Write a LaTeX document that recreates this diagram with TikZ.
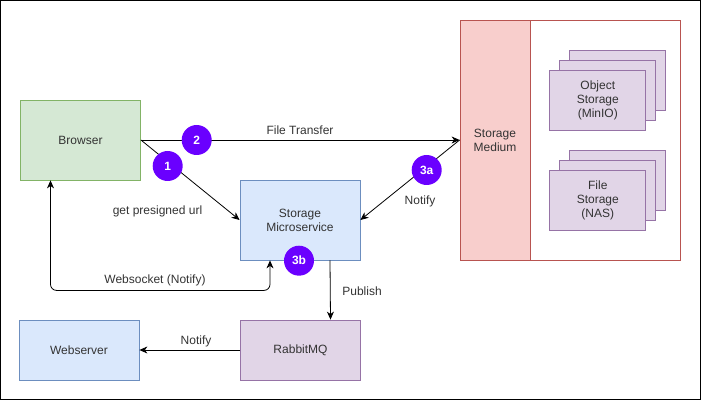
\documentclass[tikz,border=0pt]{standalone}
\usepackage{fontspec}
\setmainfont{Liberation Sans}
\usetikzlibrary{arrows.meta}
\definecolor{gfill}{HTML}{D5E8D4}\definecolor{gdraw}{HTML}{82B366}
\definecolor{bfill}{HTML}{DAE8FC}\definecolor{bdraw}{HTML}{6C8EBF}
\definecolor{pfill}{HTML}{E1D5E7}\definecolor{pdraw}{HTML}{9673A6}
\definecolor{rfill}{HTML}{F8CECC}\definecolor{rdraw}{HTML}{B85450}
\definecolor{badge}{HTML}{6A00FF}
\definecolor{txt}{HTML}{333333}
\begin{document}
\begin{tikzpicture}[x=1pt,y=-1pt,
  font=\fontsize{12}{14}\selectfont, text=txt,
  box/.style={draw, minimum width=120pt, minimum height=80pt, inner sep=0pt, align=center, line width=0.8pt},
  green box/.style={box, fill=gfill, draw=gdraw},
  blue box/.style={box, fill=bfill, draw=bdraw},
  purple box/.style={box, fill=pfill, draw=pdraw},
  minibox/.style={draw=pdraw, fill=pfill, minimum width=96pt, minimum height=60pt, inner sep=0pt, align=center, line width=0.8pt},
  num/.style={circle, fill=badge, minimum size=30pt, inner sep=0pt, text=white, font=\fontsize{12}{14}\selectfont\bfseries},
  arr/.style={-{Stealth[length=8pt,width=7pt,inset=2.5pt]}, line width=0.8pt, black},
  lbl/.style={inner sep=1pt, font=\fontsize{12}{14}\selectfont}
]
\useasboundingbox (0,0) rectangle (702,401);
\draw[line width=1pt] (0.5,0.5) rectangle (700.5,399.5);

% storage medium container
\node[draw=rdraw, fill=white, minimum width=220pt, minimum height=240pt, inner sep=0pt, line width=0.8pt] (store) at (570,140) {};
\node[draw=rdraw, fill=rfill, minimum width=70pt, minimum height=240pt, inner sep=0pt, align=center, line width=0.8pt] (medium) at (495,140) {Storage\\Medium};

% object storage stack
\node[minibox] (os3) at (617.8,80) {};
\node[minibox] (os2) at (607.8,90) {};
\node[minibox] (os1) at (597.8,100) {Object\\Storage\\(MinIO)};
% file storage stack
\node[minibox] (fs3) at (617.8,180) {};
\node[minibox] (fs2) at (607.8,190) {};
\node[minibox] (fs1) at (597.8,200) {File\\Storage\\(NAS)};

% main nodes
\node[green box] (browser) at (80.5,140) {Browser};
\node[blue box] (sm) at (300,220) {Storage\\Microservice};
\node[blue box, minimum height=60pt] (web) at (79,350) {Webserver};
\node[purple box, minimum height=60pt] (rmq) at (300.5,350) {RabbitMQ};

% connectors
\draw[arr] (browser.east) -- (medium.west);
\draw[arr] (browser.east) -- (sm.west);
\draw[arr] (medium.west) -- (sm.east);
\draw[{Stealth[length=8pt,width=7pt,inset=2.5pt]}-{Stealth[length=8pt,width=7pt,inset=2.5pt]}, line width=0.8pt, rounded corners=6pt]
  ([xshift=-30pt]browser.south) -- ++(0,110) -| ([xshift=-30pt]sm.south);
\draw[arr] ([xshift=30pt]sm.south) -- ([xshift=30pt]rmq.north);
\draw[arr] (rmq.west) -- (web.east);

% labels
\node[lbl] (lft) at (300,130) {File Transfer};
\node[lbl] (lgp) at (157.5,211) {get presigned url};
\node[lbl] (lnt) at (420,201) {Notify};
\node[lbl] (lws) at (155,280) {Websocket (Notify)};
\node[lbl] (lpb) at (362,291) {Publish};
\node[lbl] (lnt2) at (196,341) {Notify};

% badges
\node[num] (c1) at (167.7,166) {1};
\node[num] (c2) at (196.7,140) {2};
\node[num] (c3a) at (426.7,170) {3a};
\node[num] (c3b) at (299,260.7) {3b};
\end{tikzpicture}
\end{document}
